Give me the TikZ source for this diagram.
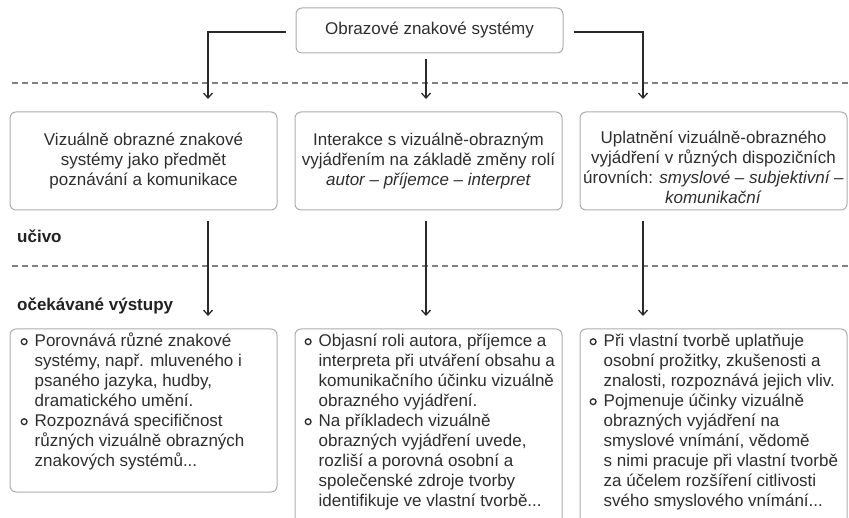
\documentclass[tikz,border=0pt]{standalone}
\usepackage{fontspec}
\setmainfont{Liberation Sans}
\usetikzlibrary{arrows.meta,calc}
\definecolor{txt}{HTML}{2E2E2E}
\definecolor{headc}{HTML}{222222}
\definecolor{boxline}{HTML}{ADADAD}
\definecolor{dashc}{HTML}{808080}
\definecolor{arrc}{HTML}{2A2A2A}
\newcommand{\fs}{\fontsize{17}{20}\selectfont}
\newcommand{\bulmark}{\llap{\tikz[baseline=-5pt]\draw[line width=1.3pt,arrc] (0,0) circle[radius=2.9pt];\hspace{7pt}}}
\newcommand{\firststrut}{\rule{0pt}{14pt}}
\begin{document}
\begin{tikzpicture}[x=1pt,y=-1pt,
  box/.style={draw=boxline, line width=1pt, rounded corners=6pt, fill=white, inner sep=0pt},
  lbl/.style={font=\fs, text=txt, align=center},
  btxt/.style={font=\fs, text=txt, align=left, inner sep=0pt, anchor=north west},
  arr/.style={arrc, line width=1.4pt, -{Straight Barb[length=5pt,width=9pt,line width=1.3pt]}},
  sepline/.style={dashc, line width=1.2pt, dash pattern=on 6pt off 4pt},
  head/.style={font=\fs\bfseries, text=headc, anchor=west, inner sep=0pt}]
\useasboundingbox (0,0) rectangle (849,518);
\clip (0,0) rectangle (849,518);
\fill[white] (0,0) rectangle (849,518);

% dashed separators
\coordinate (d1a) at (12,83);
\coordinate (d1b) at (849,83);
\coordinate (d2a) at (12,266);
\coordinate (d2b) at (849,266);
\draw[sepline] (d1a) -- (d1b);
\draw[sepline] (d2a) -- (d2b);

% top box
\node[box, lbl, minimum width=267pt, minimum height=45pt] (top) at (429.5,30.5) {Obrazové znakové systémy};

% second row
\node[box, lbl, minimum width=267pt, minimum height=98pt] (b1) at (143.5,161)
  {Vizuálně obrazné znakové\\systémy jako předmět\\poznávání a komunikace};
\node[box, lbl, minimum width=267pt, minimum height=98pt] (b2) at (428.5,161)
  {Interakce s vizuálně-obrazným\\vyjádřením na základě změny rolí\\\textit{autor – příjemce – interpret}};
\node[box, minimum width=267pt, minimum height=98pt] (b3) at (713.5,161) {};
\node[lbl, inner sep=0pt] (b3t) at (713.5,167)
  {Uplatnění vizuálně-obrazného\\vyjádření v různých dispozičních\\úrovních: \textit{smyslové – subjektivní –}\\\textit{komunikační}};

% labels
\node[head] (uc) at (17,236) {učivo};
\node[head] (oc) at (17,306) {očekávané výstupy};

% lower boxes
\node[box, minimum width=267pt, minimum height=163pt] (l1) at (143.5,410.5) {};
\node[box, minimum width=267pt, minimum height=211pt] (l2) at (428.5,434.5) {};
\node[box, minimum width=267pt, minimum height=211pt] (l3) at (713.5,434.5) {};

\node[btxt] (l1t) at ($(l1.north west)+(25,4)$)
  {\firststrut\bulmark Porovnává různé znakové\\
   systémy, např. mluveného i\\
   psaného jazyka, hudby,\\
   dramatického umění.\\
   \bulmark Rozpoznává specifičnost\\
   různých vizuálně obrazných\\
   znakových systémů...};
\node[btxt] (l2t) at ($(l2.north west)+(24,4)$)
  {\firststrut\bulmark Objasní roli autora, příjemce a\\
   interpreta při utváření obsahu a\\
   komunikačního účinku vizuálně\\
   obrazného vyjádření.\\
   \bulmark Na příkladech vizuálně\\
   obrazných vyjádření uvede,\\
   rozliší a porovná osobní a\\
   společenské zdroje tvorby\\
   identifikuje ve vlastní tvorbě...};
\node[btxt] (l3t) at ($(l3.north west)+(24,4)$)
  {\firststrut\bulmark Při vlastní tvorbě uplatňuje\\
   osobní prožitky, zkušenosti a\\
   znalosti, rozpoznává jejich vliv.\\
   \bulmark Pojmenuje účinky vizuálně\\
   obrazných vyjádření na\\
   smyslové vnímání, vědomě\\
   s nimi pracuje při vlastní tvorbě\\
   za účelem rozšíření citlivosti\\
   svého smyslového vnímání...};

% arrows from top
\coordinate (t1) at (208,99);
\coordinate (t2) at (426,99);
\coordinate (t3) at (643,99);
\draw[arr] ($(top.west)+(-10,1.5)$) -| (t1);
\draw[arr] ($(top.south -| t2)+(0,6)$) -- (t2);
\draw[arr] ($(top.east)+(10,1.5)$) -| (t3);

% arrows to lower boxes
\coordinate (u1) at (208,316);
\coordinate (u2) at (426,316);
\coordinate (u3) at (643,316);
\draw[arr] ($(b1.south -| u1)+(0,11)$) -- (u1);
\draw[arr] ($(b2.south -| u2)+(0,11)$) -- (u2);
\draw[arr] ($(b3.south -| u3)+(0,11)$) -- (u3);
\end{tikzpicture}
\end{document}
